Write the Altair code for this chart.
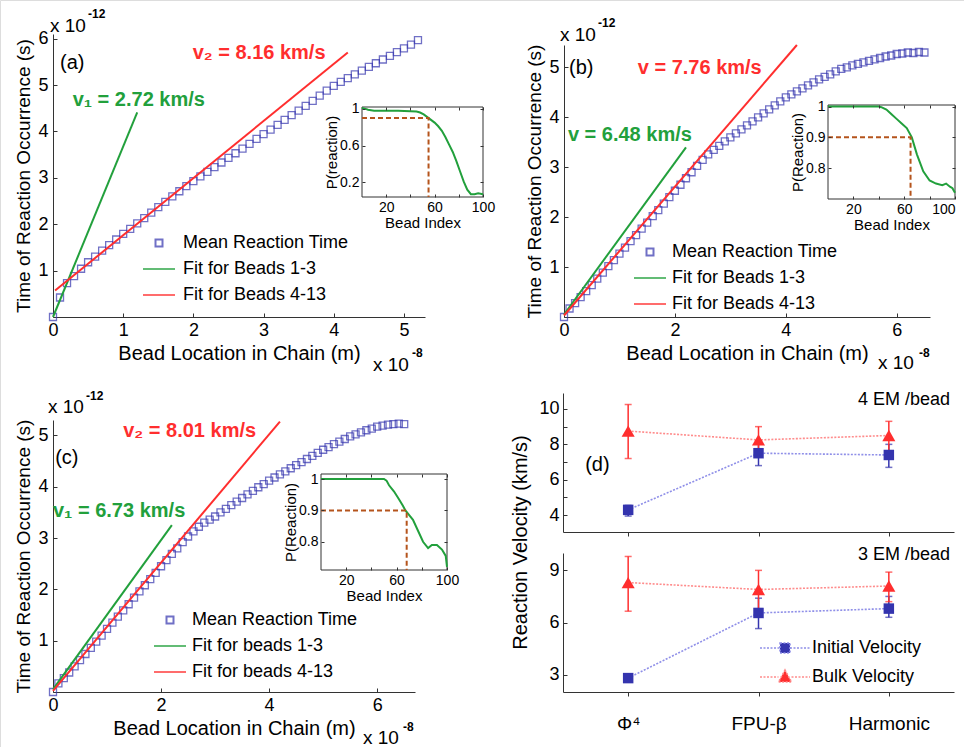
import json
import altair as alt
import pandas as pd

W, H = 964, 747
FONT = "Liberation Sans"
BLUE = "#3434ae"
GREEN = "#22a03c"
RED = "#ff2e2e"
BROWN = "#b5541c"
AXC = "#333333"
LBLUE = "#8f8fe8"
LRED = "#ff8c8c"

# ---------------- data ----------------
# panel (a)
a_x = [0.0, 0.1, 0.2, 0.3, 0.4, 0.5, 0.6, 0.7, 0.8, 0.9, 1.0, 1.1, 1.2, 1.3, 1.4, 1.5, 1.6, 1.7,
       1.8, 1.9, 2.0, 2.1, 2.2, 2.3, 2.4, 2.5, 2.6, 2.7, 2.8, 2.9, 3.0, 3.1, 3.2, 3.3, 3.4, 3.5,
       3.6, 3.7, 3.8, 3.9, 4.0, 4.1, 4.2, 4.3, 4.4, 4.5, 4.6, 4.7, 4.8, 4.9, 5.0, 5.1, 5.2]
a_t = [0.0, 0.42, 0.73, 0.88, 1.04, 1.18, 1.30, 1.43, 1.55, 1.67, 1.79, 1.90, 2.02, 2.13, 2.25,
       2.37, 2.48, 2.60, 2.71, 2.82, 2.93, 3.03, 3.13, 3.23, 3.33, 3.43, 3.53, 3.63, 3.73, 3.84,
       3.94, 4.04, 4.14, 4.25, 4.35, 4.45, 4.55, 4.66, 4.77, 4.88, 4.98, 5.07, 5.15, 5.23, 5.31,
       5.39, 5.47, 5.55, 5.63, 5.71, 5.79, 5.87, 5.97]
a_fit1_x = [0.0, 1.2]
a_fit1_t = [0.0, 4.41]
a_fit2_x = [0.03, 4.2]
a_fit2_t = [0.57, 5.70]
a_labels = ["Mean Reaction Time", "Fit for Beads 1-3", "Fit for Beads 4-13"]

# panels (b) and (c)
bc_x = [0.0, 0.1, 0.2, 0.3, 0.4, 0.5, 0.6, 0.7, 0.8, 0.9, 1.0, 1.1, 1.2, 1.3, 1.4, 1.5, 1.6,
        1.7, 1.8, 1.9, 2.0, 2.1, 2.2, 2.3, 2.4, 2.5, 2.6, 2.7, 2.8, 2.9, 3.0, 3.1, 3.2, 3.3,
        3.4, 3.5, 3.6, 3.7, 3.8, 3.9, 4.0, 4.1, 4.2, 4.3, 4.4, 4.5, 4.6, 4.7, 4.8, 4.9, 5.0,
        5.1, 5.2, 5.3, 5.4, 5.5, 5.6, 5.7, 5.8, 5.9, 6.0, 6.1, 6.2, 6.3, 6.4, 6.5]
b_t = [0.0, 0.17, 0.28, 0.40, 0.52, 0.64, 0.77, 0.89, 1.02, 1.14, 1.27, 1.39, 1.52, 1.64, 1.77,
       1.89, 2.02, 2.14, 2.27, 2.40, 2.53, 2.65, 2.78, 2.90, 3.03, 3.15, 3.26, 3.35, 3.43, 3.52,
       3.60, 3.68, 3.76, 3.84, 3.92, 4.00, 4.08, 4.16, 4.24, 4.32, 4.40, 4.46, 4.52, 4.58, 4.64,
       4.70, 4.76, 4.81, 4.86, 4.92, 4.97, 5.00, 5.04, 5.07, 5.10, 5.13, 5.16, 5.19, 5.22, 5.24,
       5.27, 5.28, 5.30, 5.29, 5.31, 5.30]
b_fit1_x = [0.0, 2.2]
b_fit1_t = [0.05, 3.40]
b_fit2_x = [0.0, 4.2]
b_fit2_t = [0.03, 5.45]
b_labels = ["Mean Reaction Time", "Fit for Beads 1-3", "Fit for Beads 4-13"]

c_t = [0.0, 0.17, 0.27, 0.38, 0.50, 0.62, 0.74, 0.86, 0.98, 1.10, 1.23, 1.35, 1.47, 1.59, 1.71,
       1.84, 1.96, 2.08, 2.20, 2.32, 2.45, 2.57, 2.69, 2.80, 2.92, 3.03, 3.13, 3.22, 3.30, 3.36,
       3.42, 3.50, 3.57, 3.64, 3.71, 3.78, 3.85, 3.92, 3.99, 4.05, 4.12, 4.18, 4.24, 4.30, 4.36,
       4.42, 4.48, 4.54, 4.60, 4.66, 4.72, 4.77, 4.83, 4.88, 4.93, 4.98, 5.02, 5.06, 5.10, 5.13,
       5.17, 5.19, 5.21, 5.22, 5.23, 5.22]
c_fit1_x = [0.0, 2.2]
c_fit1_t = [0.05, 3.25]
c_fit2_x = [0.0, 4.2]
c_fit2_t = [0.02, 5.27]
c_labels = ["Mean Reaction Time", "Fit for beads 1-3", "Fit for beads 4-13"]

# insets: P(reaction) vs bead index
ia_idx = [0, 3, 5, 10, 20, 30, 40, 45, 48, 51, 54, 57, 60, 63, 66, 69, 72, 75, 78, 81, 84, 87,
          90, 93, 96, 100]
ia_p = [1.01, 1.0, 0.99, 0.98, 0.98, 0.98, 0.975, 0.97, 0.96, 0.94, 0.91, 0.88, 0.85, 0.81,
        0.76, 0.69, 0.61, 0.53, 0.43, 0.32, 0.21, 0.12, 0.07, 0.07, 0.08, 0.07]
ia_thr = 55
ib_idx = [0, 10, 20, 30, 40, 42, 46, 50, 54, 58, 62, 66, 70, 75, 80, 85, 90, 93, 96, 98, 100]
ib_p = [1.0, 1.0, 1.0, 1.0, 1.0, 0.998, 0.99, 0.975, 0.96, 0.945, 0.93, 0.9, 0.845, 0.79, 0.76,
        0.75, 0.745, 0.75, 0.74, 0.735, 0.72]
ib_thr = 65
ic_idx = [0, 10, 20, 30, 40, 50, 52, 54, 58, 62, 65, 67, 70, 73, 77, 81, 85, 88, 92, 96, 99, 100]
ic_p = [1.0, 1.0, 1.0, 1.0, 1.0, 1.0, 0.995, 0.98, 0.96, 0.935, 0.915, 0.9, 0.885, 0.87, 0.835,
        0.8, 0.78, 0.79, 0.79, 0.775, 0.755, 0.72]
ic_thr = 68
p_threshold = 0.9
inset_xticks = [20, 40, 60, 80, 100]

# panel (d)
d_models = ["Φ⁴", "FPU-β", "Harmonic"]
d_pos = [0, 1, 2]
d4_init = [4.3, 7.5, 7.4]
d4_init_lo = [3.95, 6.8, 6.7]
d4_init_hi = [4.55, 8.2, 8.0]
d4_bulk = [8.75, 8.25, 8.5]
d4_bulk_lo = [7.2, 7.5, 7.6]
d4_bulk_hi = [10.25, 9.0, 9.3]
d3_init = [2.8, 6.55, 6.8]
d3_init_lo = [2.7, 5.65, 6.3]
d3_init_hi = [2.9, 7.4, 7.5]
d3_bulk = [8.3, 7.9, 8.1]
d3_bulk_lo = [6.65, 6.7, 7.2]
d3_bulk_hi = [9.8, 9.0, 8.9]
d_labels = ["Initial Velocity", "Bulk Velocity"]

SQ = "M-0.7,-0.7H0.7V0.7H-0.7Z"
LN = "M-3.2,0H3.2"
D_SQ = "M-5,0H-1M1,0H5M-1,-1H1V1H-1Z"
D_TR = "M-5,0H-1.3M1.3,0H5M0,-1.4L1.3,1L-1.3,1Z"


# ---------------- helpers ----------------
def _offset(orient, pos):
    if orient == "bottom":
        return pos - H
    if orient == "top":
        return -pos
    if orient == "right":
        return pos - W
    return -pos


def ax(orient, pos, values, title, size=18, tsize=18, **kw):
    d = dict(orient=orient, values=values, grid=False, domainColor=AXC, tickColor=AXC,
             domainWidth=1, tickWidth=1, tickSize=4, labelFont=FONT, labelFontSize=size,
             labelColor="black", labelFlush=False, labelOverlap=False, labelPadding=2,
             titleFont=FONT, titleFontSize=tsize, titleFontWeight="normal", titleColor="black",
             offset=_offset(orient, pos), format="~r", title=title)
    d.update(kw)
    return alt.Axis(**d)


def tick_ax(orient, pos, values, size=4, **kw):
    """Axis that only draws ticks; placed 'size' px inside so ticks point inward."""
    inner = {"bottom": pos - size, "top": pos + size, "left": pos + size, "right": pos - size}
    d = dict(orient=orient, values=values, grid=False, labels=False, domain=False, ticks=True,
             tickSize=size, tickColor=AXC, tickWidth=1, title=None,
             offset=_offset(orient, inner[orient]))
    d.update(kw)
    return alt.Axis(**d)


def note(x, y, text, xs, ys, **mk):
    df = pd.DataFrame({"x": [x], "y": [y], "label": [text]})
    props = dict(font=FONT, align="left", baseline="alphabetic")
    props.update(mk)
    return alt.Chart(df).mark_text(**props).encode(
        x=alt.X("x:Q", scale=xs, axis=None),
        y=alt.Y("y:Q", scale=ys, axis=None),
        text="label:N")


def line(xv, yv, xs, ys, color, xaxis=None, yaxis=None, **mk):
    df = pd.DataFrame({"x": xv, "y": yv, "o": list(range(len(xv)))})
    return alt.Chart(df).mark_line(color=color, **mk).encode(
        x=alt.X("x:Q", scale=xs, axis=xaxis),
        y=alt.Y("y:Q", scale=ys, axis=yaxis),
        order="o:Q")


def main_panel(xv, tv, f1x, f1t, f2x, f2t, xdom, xrng, ydom, yrng, xt, yt, labels, leg, notes):
    xs = alt.Scale(domain=xdom, range=xrng, nice=False, zero=False)
    ys = alt.Scale(domain=ydom, range=yrng, nice=False, zero=False)
    legend = alt.Legend(orient="none", legendX=leg[0], legendY=leg[1], direction="vertical",
                        title=None, labelFont=FONT, labelFontSize=18, labelColor="black",
                        labelLimit=400, labelOffset=leg[2], symbolSize=100,
                        symbolStrokeWidth=2, rowPadding=8, padding=0)
    df = pd.DataFrame({"x": xv, "y": tv, "series": labels[0]})
    pts = alt.Chart(df).mark_point(size=100, strokeWidth=1.3, filled=False).encode(
        x=alt.X("x:Q", scale=xs, axis=ax("bottom", yrng[0], xt, "Bead Location in Chain (m)",
                                         tsize=20, ticks=False, labelPadding=4)),
        y=alt.Y("y:Q", scale=ys, axis=ax("left", xrng[0], yt, "Time of Reaction Occurrence (s)",
                                         tsize=19, ticks=False, labelPadding=5)),
        color=alt.Color("series:N", scale=alt.Scale(domain=labels, range=[BLUE, GREEN, RED]),
                        legend=legend),
        shape=alt.Shape("series:N", scale=alt.Scale(domain=labels, range=[SQ, LN, LN]),
                        legend=legend))
    layers = [pts,
              line(f1x, f1t, xs, ys, GREEN, strokeWidth=2,
                   xaxis=tick_ax("bottom", yrng[0], xt), yaxis=tick_ax("left", xrng[0], yt)),
              line(f2x, f2t, xs, ys, RED, strokeWidth=2)]
    for n in notes:
        x, y, text, mk = n
        layers.append(note(x, y, text, xs, ys, **mk))
    return layers


def inset(idx, p, thr, xdom, xrng, ydom, yrng, yvals, ytitle, flush=False):
    xs = alt.Scale(domain=xdom, range=xrng, nice=False, zero=False)
    ys = alt.Scale(domain=ydom, range=yrng, nice=False, zero=False)
    frame_df = pd.DataFrame({"x": [xdom[0]], "x2": [xdom[1]], "y": [ydom[0]], "y2": [ydom[1]]})
    frame = alt.Chart(frame_df).mark_rect(fill="white", stroke=AXC, strokeWidth=1).encode(
        x=alt.X("x:Q", scale=xs, axis=ax("bottom", yrng[0], inset_xticks, "Bead Index",
                                         size=14, tsize=15, ticks=False, domain=False,
                                         labelPadding=3, titlePadding=1, zindex=1,
                                         labelFlush=flush,
                                         labelExpr="datum.value == 40 || datum.value == 80 ? '' : datum.label")),
        x2="x2:Q",
        y=alt.Y("y:Q", scale=ys, axis=ax("left", xrng[0], yvals, ytitle, size=14, tsize=15,
                                         ticks=False, domain=False, labelPadding=3,
                                         titlePadding=0, zindex=1)),
        y2="y2:Q")
    curve = line(idx, p, xs, ys, GREEN, strokeWidth=2,
                 xaxis=tick_ax("bottom", yrng[0], inset_xticks, size=3, zindex=1),
                 yaxis=tick_ax("left", xrng[0], yvals, size=3, zindex=1))
    thr_line = line([xdom[0], thr, thr], [p_threshold, p_threshold, ydom[0]], xs, ys, BROWN,
                    strokeWidth=2, strokeDash=[5, 3],
                    xaxis=tick_ax("top", yrng[1], inset_xticks, size=3, zindex=1),
                    yaxis=tick_ax("right", xrng[1], yvals, size=3, zindex=1))
    return [frame, curve, thr_line]


def d_sub(init, ilo, ihi, bulk, blo, bhi, ydom, yrng, yvals, yticks, top, notes):
    xs = alt.Scale(domain=[-0.5, 2.5], range=[563, 954], nice=False, zero=False)
    ys = alt.Scale(domain=ydom, range=yrng, nice=False, zero=False)
    if top:
        xaxis = ax("bottom", yrng[0], d_pos, None, labels=False)
        yaxis = ax("left", 563, yvals, None, size=18, ticks=False, labelPadding=4)
    else:
        xaxis = ax("bottom", yrng[0], d_pos, None, size=19, labelPadding=18,
                   labelExpr=json.dumps(d_models, ensure_ascii=False) + "[datum.value]")
        yaxis = ax("left", 563, yvals, "Reaction Velocity (km/s)", size=18, tsize=20,
                   ticks=False, labelPadding=4,
                   titleAngle=270, titleAlign="center", titleBaseline="middle",
                   titleX=-43, titleY=542)
    di = pd.DataFrame({"x": d_pos, "y": init, "lo": ilo, "hi": ihi, "series": d_labels[0]})
    db = pd.DataFrame({"x": d_pos, "y": bulk, "lo": blo, "hi": bhi, "series": d_labels[1]})
    layers = [
        alt.Chart(di).mark_line(color=LBLUE, strokeWidth=1.6, strokeDash=[2, 1.5]).encode(
            x=alt.X("x:Q", scale=xs, axis=xaxis), y=alt.Y("y:Q", scale=ys, axis=yaxis)),
        alt.Chart(db).mark_line(color=LRED, strokeWidth=1.6, strokeDash=[2, 1.5]).encode(
            x=alt.X("x:Q", scale=xs, axis=None),
            y=alt.Y("y:Q", scale=ys, axis=tick_ax("left", 563, yticks))),
    ]
    for df, c in ((di, BLUE), (db, RED)):
        base = alt.Chart(df)
        layers.append(base.mark_rule(color=c, strokeWidth=1.5).encode(
            x=alt.X("x:Q", scale=xs, axis=None),
            y=alt.Y("lo:Q", scale=ys, axis=None), y2="hi:Q"))
        for f in ("lo", "hi"):
            layers.append(base.mark_tick(color=c, orient="horizontal", size=7, thickness=1.5).encode(
                x=alt.X("x:Q", scale=xs, axis=None),
                y=alt.Y(f + ":Q", scale=ys, axis=None)))
    layers.append(alt.Chart(di).mark_square(size=110, color=BLUE, opacity=1).encode(
        x=alt.X("x:Q", scale=xs, axis=None), y=alt.Y("y:Q", scale=ys, axis=None)))
    layers.append(alt.Chart(db).mark_point(shape="triangle-up", size=170, filled=True,
                                            color=RED, opacity=1).encode(
        x=alt.X("x:Q", scale=xs, axis=None), y=alt.Y("y:Q", scale=ys, axis=None)))
    if not top:
        legend = alt.Legend(orient="none", legendX=776, legendY=639, direction="vertical",
                            title=None, labelFont=FONT, labelFontSize=18, labelColor="black",
                            labelLimit=400, labelOffset=18, symbolSize=100, symbolStrokeWidth=1.6,
                            symbolDash=[2, 1.5], symbolOpacity=1, rowPadding=9, padding=0)
        both = pd.concat([di, db])
        layers.append(alt.Chart(both).mark_point(filled=True, opacity=0, size=10).encode(
            x=alt.X("x:Q", scale=xs, axis=None), y=alt.Y("y:Q", scale=ys, axis=None),
            fill=alt.Fill("series:N", scale=alt.Scale(domain=d_labels, range=[BLUE, RED]),
                          legend=legend),
            stroke=alt.Stroke("series:N", scale=alt.Scale(domain=d_labels, range=[LBLUE, LRED]),
                              legend=legend),
            shape=alt.Shape("series:N", scale=alt.Scale(domain=d_labels, range=[D_SQ, D_TR]),
                            legend=legend)))
    for n in notes:
        x, y, text, mk = n
        layers.append(note(x, y, text, xs, ys, **mk))
    return layers


BIG = dict(fontSize=20, fontWeight="bold")
EXP = dict(fontSize=19, color="black")
SUP = dict(fontSize=12, fontWeight="bold", color="black")

pa = main_panel(a_x, a_t, a_fit1_x, a_fit1_t, a_fit2_x, a_fit2_t,
                [0, 5.3], [53, 425], [0, 6.1], [317, 34], [0, 1, 2, 3, 4, 5], [1, 2, 3, 4, 5, 6],
                a_labels, (150, 234, 15),
                [(0.1, 5.47, "(a)", dict(fontSize=20, baseline="middle", color="black")),
                 (0.28, 4.68, "v₁ = 2.72 km/s", dict(color=GREEN, baseline="middle", **BIG)),
                 (1.99, 5.69, "v₂ = 8.16 km/s", dict(color=RED, baseline="middle", **BIG)),
                 (0, 6.1, "x 10", dict(dx=-3, dy=-2, **EXP)),
                 (0, 6.1, "-12", dict(dx=35, dy=-16, **SUP)),
                 (5.3, 0, "x 10", dict(dx=-52, dy=54, **EXP)),
                 (5.3, 0, "-8", dict(dx=-13, dy=40, **SUP))])
pb = main_panel(bc_x, b_t, b_fit1_x, b_fit1_t, b_fit2_x, b_fit2_t,
                [0, 6.6], [564, 930], [0, 5.45], [317, 45], [0, 2, 4, 6], [1, 2, 3, 4, 5],
                b_labels, (641, 243, 13),
                [(0.09, 4.98, "(b)", dict(fontSize=20, baseline="middle", color="black")),
                 (1.33, 4.98, "v = 7.76 km/s", dict(color=RED, baseline="middle", **BIG)),
                 (0.07, 3.64, "v = 6.48 km/s", dict(color=GREEN, baseline="middle", **BIG)),
                 (0, 5.45, "x 10", dict(dx=-4, dy=-4, **EXP)),
                 (0, 5.45, "-12", dict(dx=34, dy=-18, **SUP)),
                 (6.6, 0, "x 10", dict(dx=-52, dy=52, **EXP)),
                 (6.6, 0, "-8", dict(dx=-11, dy=40, **SUP))])
pc = main_panel(bc_x, c_t, c_fit1_x, c_fit1_t, c_fit2_x, c_fit2_t,
                [0, 6.7], [53, 415], [0, 5.3], [692, 420], [0, 2, 4, 6], [1, 2, 3, 4, 5],
                c_labels, (161, 611, 13),
                [(0.04, 4.55, "(c)", dict(fontSize=20, baseline="middle", color="black")),
                 (1.3, 5.08, "v₂ = 8.01 km/s", dict(color=RED, baseline="middle", **BIG)),
                 (0.0, 3.53, "v₁ = 6.73 km/s", dict(color=GREEN, baseline="middle", **BIG)),
                 (0, 5.3, "x 10", dict(dx=-5, dy=-7, **EXP)),
                 (0, 5.3, "-12", dict(dx=33, dy=-20, **SUP)),
                 (6.7, 0, "x 10", dict(dx=-52, dy=52, **EXP)),
                 (6.7, 0, "-8", dict(dx=-12, dy=39, **SUP))])

ia = inset(ia_idx, ia_p, ia_thr, [0, 100], [362, 483], [0.04, 1.02], [197, 107],
           [0.2, 0.6, 1], "P(reaction)")
ib = inset(ib_idx, ib_p, ib_thr, [0, 100], [828, 955], [0.7, 1.005], [199, 105],
           [0.8, 0.9, 1], "P(Reaction)", flush=True)
ic = inset(ic_idx, ic_p, ic_thr, [0, 100], [321, 447], [0.71, 1.016], [570, 474],
           [0.8, 0.9, 1], "P(Reaction)")

dt = d_sub(d4_init, d4_init_lo, d4_init_hi, d4_bulk, d4_bulk_lo, d4_bulk_hi,
           [3.05, 10.9], [532, 393], [4, 6, 8, 10], [4, 5, 6, 7, 8, 9, 10], True,
           [(2.5, 10.5, "4 EM /bead", dict(align="right", dx=-4, baseline="middle", fontSize=18)),
            (-0.33, 6.83, "(d)", dict(baseline="middle", fontSize=20))])
db_ = d_sub(d3_init, d3_init_lo, d3_init_hi, d3_bulk, d3_bulk_lo, d3_bulk_hi,
            [2, 10], [692, 553], [3, 6, 9], [3, 6, 9], False,
            [(2.5, 9.87, "3 EM /bead", dict(align="right", dx=-4, baseline="middle", fontSize=18))])

all_layers = pa + ia + pb + ib + pc + ic + dt + db_

chart = alt.layer(*all_layers).resolve_scale(
    x="independent", y="independent", color="independent", shape="independent",
    fill="independent", stroke="independent"
).properties(
    width=W, height=H, padding=0, background="white",
    autosize=alt.AutoSizeParams(type="none")
).configure_view(stroke=None).configure(font=FONT)

chart.save("out.html", embed_options={"renderer": "svg", "actions": False})
